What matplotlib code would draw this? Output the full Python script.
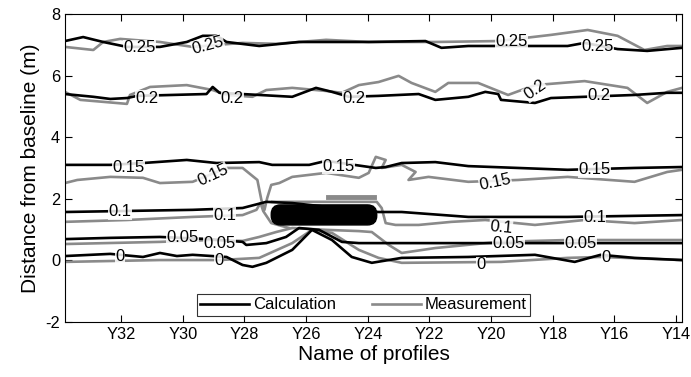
import matplotlib
matplotlib.use("Agg")
import matplotlib.pyplot as plt
from matplotlib.patches import FancyBboxPatch

plt.rcParams['font.family'] = ['Liberation Sans', 'DejaVu Sans']
plt.rcParams['axes.unicode_minus'] = False

# ---------------- data ----------------
tick_pos = [32, 30, 28, 26, 24, 22, 20, 18, 16, 14]
tick_labels = ['Y32', 'Y30', 'Y28', 'Y26', 'Y24', 'Y22', 'Y20', 'Y18', 'Y16', 'Y14']
x_limits = [33.82, 13.81]
y_limits = [-2, 8]
y_ticks = [-2, 0, 2, 4, 6, 8]

calc_025_x = [33.82, 33.23, 32.58, 31.81, 30.74, 29.87, 29.35, 28.90, 28.58, 27.52, 26.23, 23.97, 22.13, 21.61, 20.74, 17.52, 16.97, 15.90, 14.94, 13.81]
calc_025_y = [7.12, 7.25, 7.09, 6.93, 6.93, 7.09, 7.29, 7.29, 7.09, 6.96, 7.09, 7.09, 7.12, 6.90, 6.96, 6.96, 7.06, 6.86, 6.80, 6.90]
meas_025_x = [33.82, 32.90, 32.58, 32.03, 30.74, 29.68, 28.06, 26.97, 25.35, 23.97, 21.81, 19.77, 18.06, 16.87, 15.90, 15.03, 14.29, 13.81]
meas_025_y = [6.93, 6.83, 7.09, 7.19, 7.09, 6.93, 7.06, 7.03, 7.16, 7.09, 7.09, 7.12, 7.32, 7.48, 7.29, 6.83, 6.96, 6.96]

calc_02_x = [33.82, 32.90, 32.35, 31.81, 31.48, 29.23, 29.03, 28.81, 27.52, 26.45, 25.68, 25.16, 24.61, 23.65, 22.35, 21.81, 20.74, 20.19, 19.77, 19.68, 18.58, 18.06, 16.97, 15.35, 14.29, 13.81]
calc_02_y = [5.40, 5.31, 5.24, 5.27, 5.34, 5.40, 5.63, 5.44, 5.37, 5.31, 5.60, 5.47, 5.31, 5.34, 5.40, 5.21, 5.31, 5.47, 5.40, 5.21, 5.11, 5.27, 5.31, 5.37, 5.44, 5.44]
meas_02_x = [33.82, 33.32, 31.81, 31.71, 31.06, 29.87, 29.03, 28.58, 27.74, 27.29, 26.45, 25.35, 24.84, 24.29, 23.65, 23.0, 22.58, 21.81, 21.39, 20.42, 19.45, 18.58, 16.97, 15.58, 14.94, 14.29, 13.81]
meas_02_y = [5.47, 5.21, 5.08, 5.37, 5.63, 5.69, 5.53, 5.37, 5.31, 5.53, 5.60, 5.50, 5.44, 5.69, 5.79, 5.99, 5.76, 5.47, 5.76, 5.76, 5.37, 5.69, 5.82, 5.60, 5.11, 5.47, 5.60]

calc_015_x = [33.82, 32.35, 31.29, 29.87, 28.90, 27.52, 27.10, 25.90, 25.35, 23.74, 23.42, 22.90, 21.81, 20.74, 17.52, 15.35, 13.81]
calc_015_y = [3.10, 3.10, 3.16, 3.26, 3.16, 3.19, 3.10, 3.10, 3.23, 3.00, 3.03, 3.16, 3.19, 3.06, 2.94, 3.00, 3.03]
meas_015_x = [33.82, 33.42, 32.35, 31.29, 30.74, 29.68, 28.58, 28.06, 27.58, 27.45, 27.35, 27.26, 27.13, 26.87, 26.45, 25.35, 24.29, 23.97, 23.74, 23.42, 23.55, 22.90, 22.45, 22.68, 22.03, 20.74, 19.13, 17.52, 15.35, 14.29, 13.81]
meas_015_y = [2.51, 2.61, 2.71, 2.68, 2.51, 2.55, 3.00, 3.00, 2.61, 1.96, 1.64, 2.03, 2.45, 2.51, 2.71, 2.84, 2.68, 2.84, 3.36, 3.26, 3.00, 3.10, 2.87, 2.61, 2.71, 2.55, 2.61, 2.71, 2.55, 2.87, 2.94]

calc_01_x = [33.82, 29.68, 28.06, 27.29, 26.45, 25.26, 23.65, 22.90, 20.74, 17.52, 13.81]
calc_01_y = [1.57, 1.64, 1.70, 1.90, 1.86, 1.73, 1.57, 1.57, 1.41, 1.41, 1.47]
meas_01a_x = [33.82, 31.81, 29.68, 28.06, 27.61, 27.48, 27.39, 27.13, 26.55]
meas_01a_y = [1.25, 1.31, 1.41, 1.47, 1.64, 1.86, 1.60, 1.21, 1.05]
meas_01b_x = [27.10, 23.71, 23.55, 23.42, 23.10, 22.35, 21.29, 20.19, 18.58, 16.97, 15.35, 13.81]
meas_01b_y = [1.90, 1.90, 1.70, 1.21, 1.15, 1.15, 1.25, 1.31, 1.15, 1.31, 1.21, 1.31]
meas_top_x = [25.30, 23.80]
meas_top_y = [2.06, 2.06]

calc_005_x = [33.82, 32.35, 30.74, 29.13, 28.06, 27.94, 27.29, 26.65, 26.23, 25.58, 24.84, 24.29, 23.65, 19.77, 16.55, 13.81]
calc_005_y = [0.69, 0.73, 0.76, 0.69, 0.60, 0.50, 0.56, 0.76, 1.05, 0.99, 0.60, 0.56, 0.56, 0.56, 0.56, 0.56]
meas_005_x = [33.82, 30.74, 29.13, 28.06, 27.52, 26.97, 26.45, 25.35, 24.29, 23.87, 23.32, 22.90, 21.81, 19.77, 17.52, 13.81]
meas_005_y = [0.53, 0.60, 0.66, 0.63, 0.76, 0.92, 1.05, 0.99, 0.95, 0.92, 0.50, 0.24, 0.40, 0.60, 0.66, 0.66]

calc_0_x = [33.82, 32.35, 31.29, 30.74, 30.19, 29.68, 28.58, 28.06, 27.74, 27.29, 26.45, 25.81, 25.16, 24.52, 23.87, 22.90, 20.74, 18.58, 17.29, 16.45, 15.35, 13.81]
calc_0_y = [0.14, 0.21, 0.11, 0.24, 0.14, 0.18, 0.11, -0.15, -0.21, -0.08, 0.34, 0.99, 0.66, 0.11, -0.08, 0.08, 0.11, 0.18, -0.05, 0.18, 0.08, 0.01]
meas_0_x = [33.82, 30.74, 28.81, 27.52, 26.45, 25.81, 25.16, 24.29, 23.65, 22.90, 19.68, 17.52, 16.45, 13.81]
meas_0_y = [-0.05, 0.01, 0.01, 0.08, 0.56, 0.99, 0.89, 0.34, 0.08, -0.08, -0.05, 0.08, 0.11, 0.01]

obstacle_x = [23.71, 27.13]
obstacle_y = [1.15, 1.80]

label_text = ['0.25', '0.25', '0.25', '0.25',
              '0.2', '0.2', '0.2', '0.2', '0.2',
              '0.15', '0.15', '0.15', '0.15', '0.15',
              '0.1', '0.1', '0.1', '0.1',
              '0.05', '0.05', '0.05', '0.05',
              '0', '0', '0', '0']
label_x = [31.39, 29.19, 19.35, 16.55,
           31.16, 28.39, 24.45, 18.58, 16.52,
           31.77, 24.94, 29.03, 19.87, 16.65,
           32.03, 28.65, 19.68, 16.65,
           30.0, 28.81, 19.45, 17.10,
           32.03, 28.81, 20.32, 16.29]
label_y = [6.90, 6.99, 7.09, 6.93,
           5.27, 5.27, 5.24, 5.53, 5.34,
           3.03, 3.06, 2.77, 2.55, 2.94,
           1.57, 1.47, 1.08, 1.38,
           0.73, 0.56, 0.56, 0.56,
           0.14, 0.01, -0.15, 0.08]
label_rot = [0, 15, 0, 0,
             0, 0, 0, 35, 0,
             0, 0, 25, 12, 0,
             0, 0, -5, 0,
             0, 0, 0, 0,
             0, 0, 0, 0]

# ---------------- plot ----------------
fig = plt.figure(figsize=(6.91, 3.77), dpi=100)
ax = fig.add_axes([0.094, 0.146, 0.893, 0.817])

black = '#000000'
gray = '#8a8a8a'
lw = 1.9

calc_lines = [(calc_025_x, calc_025_y), (calc_02_x, calc_02_y), (calc_015_x, calc_015_y),
              (calc_01_x, calc_01_y), (calc_005_x, calc_005_y), (calc_0_x, calc_0_y)]
meas_lines = [(meas_025_x, meas_025_y), (meas_02_x, meas_02_y), (meas_015_x, meas_015_y),
              (meas_01a_x, meas_01a_y), (meas_01b_x, meas_01b_y),
              (meas_005_x, meas_005_y), (meas_0_x, meas_0_y)]

for i, (xs, ys) in enumerate(calc_lines):
    ax.plot(xs, ys, color=black, lw=lw, label='Calculation' if i == 0 else None, zorder=3)
for i, (xs, ys) in enumerate(meas_lines):
    ax.plot(xs, ys, color=gray, lw=lw, label='Measurement' if i == 0 else None, zorder=2)
ax.plot(meas_top_x, meas_top_y, color=gray, lw=3.5, zorder=2)

obs = FancyBboxPatch((obstacle_x[0], obstacle_y[0]), obstacle_x[1] - obstacle_x[0],
                     obstacle_y[1] - obstacle_y[0],
                     boxstyle='round,pad=0,rounding_size=0.3',
                     facecolor='black', edgecolor='black', zorder=5)
ax.add_patch(obs)

for t, x, y, r in zip(label_text, label_x, label_y, label_rot):
    ax.text(x, y, t, fontsize=12, ha='center', va='center', rotation=r,
            bbox=dict(facecolor='white', edgecolor='none', pad=0.2, alpha=0.85), zorder=4)

ax.set_xlim(x_limits)
ax.set_ylim(y_limits)
ax.set_xticks(tick_pos)
ax.set_xticklabels(tick_labels)
ax.set_yticks(y_ticks)
ax.tick_params(direction='in', top=True, right=True, labelsize=11.8, length=5, width=0.8)
for s in ax.spines.values():
    s.set_linewidth(0.8)
ax.set_xlabel('Name of profiles', fontsize=15, labelpad=2)
ax.set_ylabel('Distance from baseline (m)', fontsize=15, labelpad=4)

leg = ax.legend(loc='lower center', bbox_to_anchor=(0.484, 0.02), ncol=2,
                fontsize=12, frameon=True, fancybox=False, edgecolor='black',
                handlelength=2.95, columnspacing=2.1, borderpad=0.2, handletextpad=0.25,
                borderaxespad=0)
leg.get_frame().set_linewidth(0.8)

fig.savefig('out.png', dpi=100)
